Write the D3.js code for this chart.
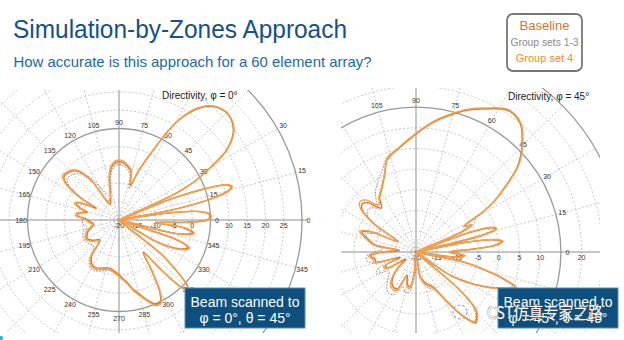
<!DOCTYPE html>
<html><head><meta charset="utf-8">
<script src="https://cdn.jsdelivr.net/npm/d3@7"></script>
<style>
html,body{margin:0;padding:0;background:#fff;}
svg{display:block;font-family:"Liberation Sans",Arial,sans-serif;}
</style></head><body>
<svg id="c" width="624" height="340"></svg>
<script>
// ---------- data ----------
const angleTicks = [0,15,30,45,60,75,90,105,120,135,150,165,180,195,210,225,240,255,270,285,300,315,330,345];
const radialTicksL = [-20,-15,-10,-5,0,10,15,20,25];
const radialTicksR = [-20,-15,-10,-5,0,5,10,20];
const gridDbL = [-15,-10,-5,0,5,10,15,20,25,30];
const gridDbR = [-15,-10,-5,0,5,10,15,20,25,30];
const legendItems = ["Baseline","Group sets 1-3","Group set 4"];

// Left plot: Directivity, phi = 0 deg  ([angle deg, dB])
const baseL = [
 [0,4],[2,5],[4,4.5],[6,2],[8,-6],[9.5,-20],
 [11,-4],[13,6],[15,11],[16.5,12],[18,11],[20,5],[22,-5],[23.5,-20],
 [25,-3],[27,3],[30,9],[33,15],[38,19.7],[44,21.5],[50,20.5],[54,18],[58,13.5],[61,8],[64,1],[68,-5],[72,-10],
 [76,-6.5],[81,-5.2],[86,-4.3],[91,-4.1],[96,-4.8],[101,-7],[106,-11],[112,-14],
 [120,-15],[125,-7],[130,-2.6],[136,-1.2],[142,-0.9],[146,-2.9],[150,-8],[153,-13],
 [156,-8.5],[159,-7.5],[163,-9],[166,-11],[170,-9],[174,-8.5],[178,-11],[183,-12],
 [190,-13],[200,-11],[210,-10],[218,-11],[226,-12.5],[233,-7.5],[239,-5.8],[244,-5.5],[252,-6.2],[259,-6.6],[266,-5.8],[272,-4.5],[277,-3],[282,-0.5],[286,1.3],[290,3.5],[294,5.2],[297,5],[300,2],[303,-4],[307,-9],
 [310,-3],[312,3],[314,6.5],[316,6],[318,2],[321,-5],[325,-20],
 [330,-8],[334,-2],[338,0.4],[341,-3],[344,-20],[347,-3],[350,0.5],[353,-2],[356,-10],[358,-2]
];
const grp13L = [
 [0,4],[2,5],[4,4.3],[6,2],[8,-6],[9.5,-20],
 [11,-4],[13,6],[15,11],[16.5,11.8],[18,11],[20,5],[22,-5],[23.5,-20],
 [25,-3],[27,3],[30,9],[33,15],[38,19.6],[44,21.4],[50,20.4],[54,17.8],[58,13.3],[61,8],[64,1],[68,-5.5],[72,-11],
 [76,-7.5],[81,-6],[86,-5],[91,-4.8],[96,-5.5],[101,-8],[106,-12],[112,-13],
 [118,-11],[124,-6],[130,-3.5],[136,-2.2],[142,-2],[146,-4],[150,-9],[153,-12],
 [157,-9],[161,-8.5],[165,-10],[170,-9.5],[175,-9],[180,-10],[186,-10],
 [193,-11],[200,-9.5],[210,-9],[218,-9.5],[226,-10],[233,-6.5],[239,-4.8],[244,-4.6],[252,-5.4],[259,-6],[266,-5.2],[272,-4],[277,-2.6],[282,-0.3],[286,1.4],[290,3.5],[294,5],[297,4.7],[300,1.8],[303,-4],[307,-9],
 [310,-3],[312,2.8],[314,6.3],[316,5.8],[318,2],[321,-5],[325,-20],
 [330,-8],[334,-2.5],[338,0],[341,-3],[344,-20],[347,-3.5],[350,0],[353,-2.5],[356,-10],[358,-2.5]
];
const grp4L = [
 [0,4.2],[2,5.3],[4,4.8],[6,2.3],[8,-6],[9.5,-20],
 [11,-4],[13,6.3],[15,11.3],[16.5,12.3],[18,11.2],[20,5.2],[22,-5],[23.5,-20],
 [25,-3],[27,3.2],[30,9.2],[33,15.2],[38,19.9],[44,21.6],[50,20.6],[54,18.2],[58,13.8],[61,8.3],[64,1.3],[68,-4.8],[72,-9.5],
 [76,-6],[81,-4.8],[86,-3.8],[91,-3.6],[96,-4.3],[101,-6.5],[106,-10.5],[112,-13.5],
 [120,-14],[125,-6.5],[130,-2.2],[136,-0.8],[142,-0.5],[146,-2.5],[150,-7.5],[153,-12],
 [156,-8],[159,-7],[163,-8.5],[166,-10.5],[170,-8.5],[174,-8],[178,-10.5],[183,-11.5],
 [190,-12.5],[200,-10.5],[210,-9.5],[218,-10.5],[226,-12],[233,-7],[239,-5.4],[244,-5.1],[252,-5.8],[259,-6.2],[266,-5.4],[272,-4.1],[277,-2.6],[282,-0.1],[286,1.7],[290,3.9],[294,5.6],[297,5.4],[300,2.4],[303,-3.6],[307,-8.5],
 [310,-2.6],[312,3.3],[314,6.8],[316,6.3],[318,2.4],[321,-4.6],[325,-20],
 [330,-7.5],[334,-1.6],[338,0.8],[341,-2.6],[344,-20],[347,-2.6],[350,0.9],[353,-1.6],[356,-9.5],[358,-1.6]
];

// Right plot: Directivity, phi = 45 deg
const baseR = [
 [0,-12],[3,-6],[5,-0.5],[7,0.9],[9,-1],[11,-8],[12.5,-20],
 [14,-4],[16,0],[18,-1],[20,-6],[22,-20],
 [24,-8],[26,-5],[28,-7],[30,-4],[31,-1],[33,2.5],[35.5,5.8],[40,12],[44.7,16],[51,20],[57,20.8],[64,18.5],[70,16.5],[75,14.5],[82,11.8],[89.5,8.7],[99,5.5],[107.5,3.3],[111.4,0.5],[118,-2.5],[124,-4.3],[128,-6.5],[131,-5.5],
 [134,-3.5],[138,-2.6],[142,-3.5],[146,-8],[150,-15],
 [156,-8],[160,-6],[165,-8],[170,-10],[175,-16],[180,-12],[185,-9],[190,-10],[194,-10],[199,-16],[204,-12],[209,-12],[215,-17],
 [222,-14],[230,-11],[236,-10],[243,-10],[249,-14],[255,-12],[260,-11.4],[265,-15],[272,-20],
 [280,-14],[288,-12],[295,-11],[300,-8],[304,-3.5],[307,0],[310,2.2],[313,1.5],[316,0],[319,-6],[322,-20],
 [326,-10],[331,-4],[335,0.5],[338,3.5],[340.5,5.4],[343,2],[345,-2],[348,-8],[350,-20],
 [353,-10],[356,-8.6],[358,-11]
];
const grp13R = [
 [0,-11],[3,-6],[5,-1],[7,0.5],[9,-1.5],[11,-8],[12.5,-20],
 [14,-5],[16,-1],[18,-2],[20,-6],[22,-14],
 [24,-6],[27,-4],[30,-3.5],[31,-1],[33,2.3],[35.5,5.6],[40,11.8],[44.7,15.9],[51,19.9],[57,20.7],[64,18.4],[70,16.4],[75,14.4],[82,11.7],[89.5,8.7],[99,5.6],[107.5,3.8],[111.4,1.8],[118,-0.5],[124,-2.5],[128,-4.5],[131,-6],
 [134,-5],[138,-4.5],[142,-5],[146,-7],[150,-10],
 [156,-9],[160,-7],[165,-8],[170,-9],[175,-12],[180,-10],[185,-8],[190,-8],[194,-9],[199,-12],[204,-10],[209,-9],[215,-12],
 [222,-11],[230,-9],[236,-8],[243,-8.5],[249,-11],[255,-10],[260,-10],[265,-13],[272,-16],
 [280,-13],[288,-11],[295,-10],[300,-7.5],[304,-3.5],[307,-0.3],[310,1.8],[313,1.2],[316,-0.5],[319,-6],[322,-16],
 [326,-9],[331,-4],[335,0],[338,3],[340.5,4.8],[343,1.5],[345,-2.5],[348,-8],[350,-16],
 [353,-9],[356,-8],[358,-10]
];
const grp4R = [
 [0,-12],[3,-5.5],[5,-0.2],[7,1.2],[9,-0.7],[11,-7.5],[12.5,-20],
 [14,-3.7],[16,0.3],[18,-0.7],[20,-5.7],[22,-20],
 [24,-8],[26,-5],[28,-7],[30,-4],[31,-0.8],[33,2.7],[35.5,6],[40,12.2],[44.7,16.2],[51,20.2],[57,21],[64,18.7],[70,16.7],[75,14.7],[82,12],[89.5,8.9],[99,5.7],[107.5,3.5],[111.4,0.7],[118,-2.3],[124,-4],[128,-5.5],[131,-4.5],
 [134,-2.5],[138,-1.8],[142,-3],[146,-7.5],[150,-15],
 [156,-7.5],[160,-5.5],[165,-7.5],[170,-9.5],[175,-15],[180,-11.5],[185,-8.5],[190,-9.5],[194,-9.5],[199,-15],[204,-11.5],[209,-11.5],[215,-16],
 [222,-13.5],[230,-10.5],[236,-9.5],[243,-9.5],[249,-13.5],[255,-11.5],[260,-11],[265,-14.5],[272,-20],
 [280,-13.5],[288,-11.5],[295,-10.5],[300,-7.5],[304,-3.2],[307,0.3],[310,2.5],[313,1.8],[316,0.3],[319,-5.6],[322,-20],
 [326,-9.5],[331,-3.6],[335,0.8],[338,3.8],[340.5,5.7],[343,2.3],[345,-1.7],[348,-7.6],[350,-20],
 [353,-9.5],[356,-8.2],[358,-10.5]
];

// ---------- drawing ----------
const svg = d3.select("#c");
const defs = svg.append("defs");
const COL_BASE = "#dd7622", COL_G13 = "#8d8d8d", COL_G4 = "#f7a04a";
const boxes = [[185,288],[498,288]];   // beam-scan note boxes (120 x 40)
const titleZones = [[158,88,242,102],[504,88,592,103]];  // plot captions
const blocked = (x,y) => boxes.some(([bx,by]) => x > bx-3 && x < bx+123 && y > by+3 && y < by+43)
  || titleZones.some(([a,b,c,d]) => x > a-6 && x < c+6 && y > b-4 && y < d+4);

function polar(cfg){
  const [x0,y0,x1,y1] = cfg.clip;
  defs.append("clipPath").attr("id", cfg.id)
    .append("rect").attr("x", x0).attr("y", y0).attr("width", x1-x0).attr("height", y1-y0);
  const g = svg.append("g").attr("clip-path", `url(#${cfg.id})`);
  const r = d3.scaleLinear().domain([-20,30]).range([0,cfg.R]).clamp(true);
  const rad = a => a*Math.PI/180;
  const px = (a,v) => cfg.cx + r(v)*Math.cos(rad(a));
  const py = (a,v) => cfg.cy - r(v)*Math.sin(rad(a));
  const solid = d => d===cfg.ring1 || d===30;
  g.selectAll("circle.grid").data(cfg.gridDb).join("circle")
    .attr("cx", cfg.cx).attr("cy", cfg.cy).attr("r", d=>r(d)).attr("fill","none")
    .attr("stroke", d => solid(d) ? "#9a9a9a" : "#b8b8b8")
    .attr("stroke-width", d => solid(d) ? 1.3 : 0.8)
    .attr("stroke-dasharray", d => solid(d) ? null : "2,2");
  g.selectAll("line.spoke").data(angleTicks.filter(a=>a%90!==0)).join("line")
    .attr("x1", cfg.cx).attr("y1", cfg.cy)
    .attr("x2", a=>px(a,30)).attr("y2", a=>py(a,30))
    .attr("stroke","#b8b8b8").attr("stroke-width",0.8).attr("stroke-dasharray","2,2");
  g.append("line").attr("x1", x0).attr("x2", px(0,30)+6).attr("y1", cfg.cy).attr("y2", cfg.cy)
    .attr("stroke","#8f8f8f").attr("stroke-width",1);
  g.append("line").attr("x1", cfg.cx).attr("x2", cfg.cx).attr("y1", y0).attr("y2", y1)
    .attr("stroke","#8f8f8f").attr("stroke-width",1);
  const labels = [];
  [cfg.ring1, 30].forEach(ring => angleTicks.forEach(a => {
    const lx = cfg.cx + (r(ring)+6.5)*Math.cos(rad(a)), ly = cfg.cy - (r(ring)+6.5)*Math.sin(rad(a));
    if (lx > x0+5 && lx < x1-5 && ly > y0+4 && ly < y1-3 && !blocked(lx,ly)) labels.push({a, lx, ly});
  }));
  g.selectAll(null).data(labels).join("text")
    .attr("x", d=>d.lx).attr("y", d=>d.ly)
    .attr("text-anchor","middle").attr("dominant-baseline","central")
    .attr("font-size",7).attr("fill","#333").text(d=>d.a);
  g.selectAll(null).data(cfg.radialTicks).join("text")
    .attr("x", v => cfg.cx + r(v)).attr("y", cfg.cy + 8)
    .attr("text-anchor","middle").attr("font-size",7).attr("fill","#333").text(v=>v);
  const line = d3.lineRadial()
    .angle(d => rad(90 - d[0])).radius(d => r(d[1]))
    .curve(d3.curveCatmullRomClosed.alpha(0.5));
  const cg = g.append("g").attr("transform",`translate(${cfg.cx},${cfg.cy})`).attr("fill","none");
  cg.append("path").attr("d", line(cfg.g13)).attr("stroke",COL_G13).attr("stroke-width",1).attr("stroke-dasharray","1.6,1.4");
  cg.append("path").attr("d", line(cfg.base)).attr("stroke",COL_BASE).attr("stroke-width",1.4);
  cg.append("path").attr("d", line(cfg.g4)).attr("stroke",COL_G4).attr("stroke-width",1.4);
  svg.append("text").attr("x", cfg.title[0]).attr("y", cfg.title[1]).attr("font-size",10)
    .attr("fill","#222").text(cfg.titleText);
}

polar({id:"clipL", cx:119, cy:220, R:183, clip:[0,90,320,333], ring1:5, gridDb:gridDbL,
  radialTicks:radialTicksL, base:baseL, g13:grp13L, g4:grp4L,
  title:[162,99], titleText:"Directivity, φ = 0°"});
polar({id:"clipR", cx:416, cy:252, R:207, clip:[341,88,600,333], ring1:15, gridDb:gridDbR,
  radialTicks:radialTicksR, base:baseR, g13:grp13R, g4:grp4R,
  title:[508,100], titleText:"Directivity, φ = 45°"});

// header
svg.append("text").attr("x",13).attr("y",38).attr("font-size",26.5).attr("fill","#14508a")
  .attr("textLength",334).attr("lengthAdjust","spacingAndGlyphs").text("Simulation-by-Zones Approach");
svg.append("text").attr("x",13.5).attr("y",66.5).attr("font-size",15).attr("fill","#1a69a8")
  .attr("textLength",358).attr("lengthAdjust","spacingAndGlyphs").text("How accurate is this approach for a 60 element array?");

// legend
svg.append("rect").attr("x",507).attr("y",14).attr("width",75).attr("height",57).attr("rx",6)
  .attr("fill","#fff").attr("stroke","#777").attr("stroke-width",1.8);
const legCols = ["#c87a2c","#8a8a8a","#f08c28"], legSize=[13,10.3,11], legY=[30,46,62];
svg.selectAll("text.leg").data(legendItems).join("text").attr("class","leg")
  .attr("x",544.5).attr("y",(d,i)=>legY[i]).attr("text-anchor","middle")
  .attr("font-size",(d,i)=>legSize[i]).attr("fill",(d,i)=>legCols[i]).text(d=>d);

// beam boxes
function beamBox([x,y],lines){
  svg.append("rect").attr("x",x).attr("y",y).attr("width",120).attr("height",40)
    .attr("fill","#0d4f7e").attr("stroke","#5d8db8").attr("stroke-width",1);
  lines.forEach((t,i)=> svg.append("text").attr("x",x+60).attr("y",y+19+i*15.5)
    .attr("text-anchor","middle").attr("font-size",14).attr("fill","#fff").text(t));
}
beamBox(boxes[0],["Beam scanned to","φ = 0°, θ = 45°"]);
beamBox(boxes[1],["Beam scanned to","φ = 45°, θ = 45°"]);

// watermark (overlays the right note box, as in the source image)
svg.append("text").attr("x",487).attr("y",319).attr("font-size",17)
  .attr("textLength",116).attr("lengthAdjust","spacingAndGlyphs")
  .attr("font-family","'Noto Sans CJK SC',sans-serif")
  .attr("fill","#fff").attr("stroke","#555").attr("stroke-width",0.7).attr("paint-order","stroke")
  .text("CST仿真专家之路");
svg.append("circle").attr("cx",460).attr("cy",312).attr("r",7).attr("fill","none")
  .attr("stroke","#aaa").attr("stroke-width",1.2).attr("stroke-dasharray","3,2");
svg.append("circle").attr("cx",1).attr("cy",338).attr("r",2).attr("fill","#1fb5c4");
</script>
</body></html>
